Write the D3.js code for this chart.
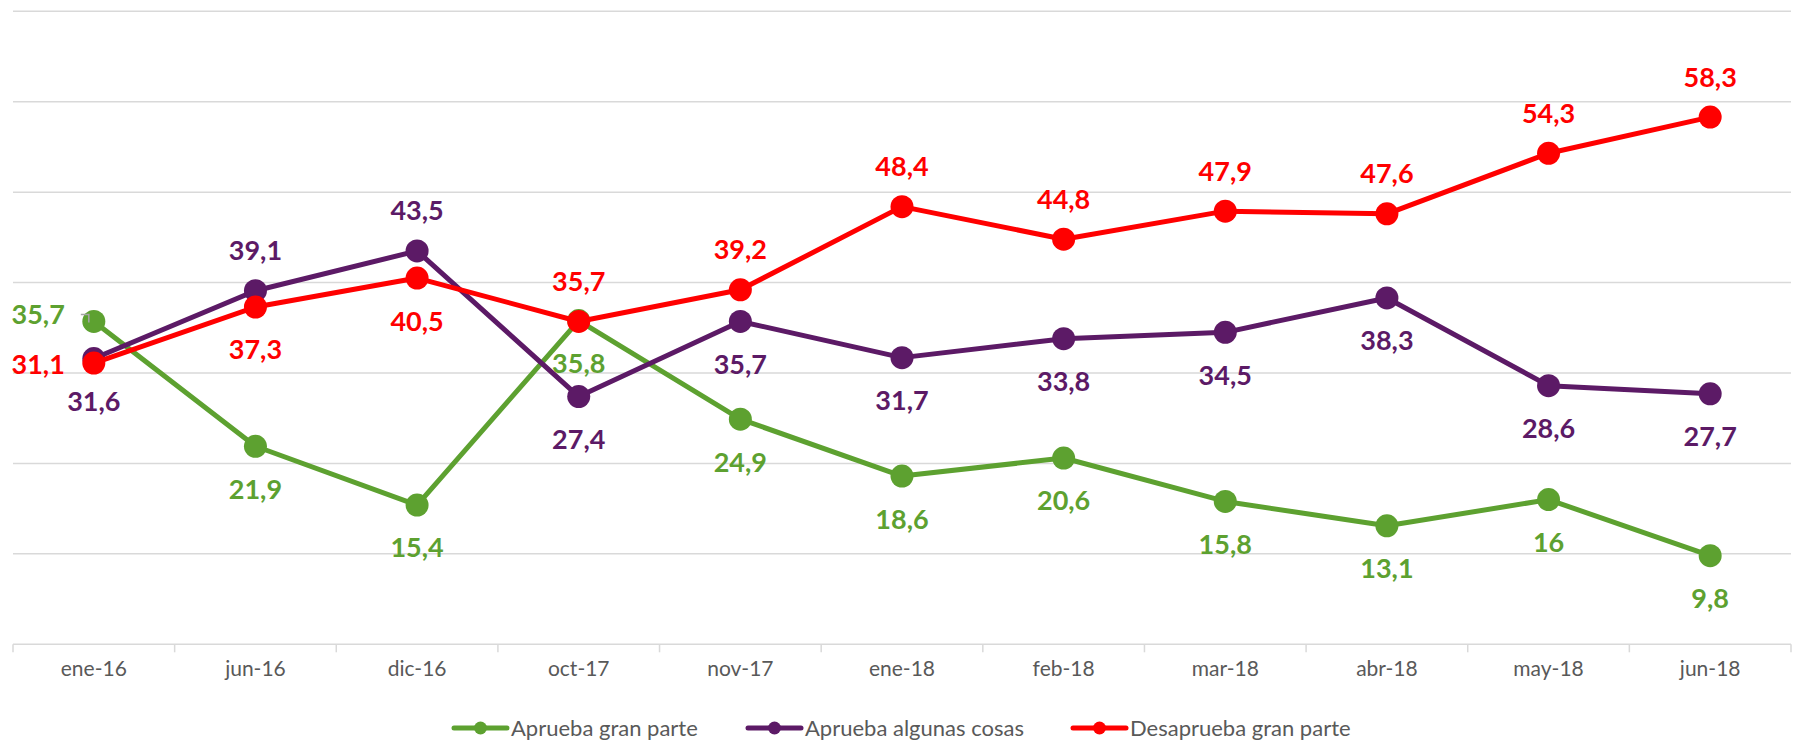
<!DOCTYPE html>
<html>
<head>
<meta charset="utf-8">
<script src="https://cdn.jsdelivr.net/npm/d3@7"></script>
<style>
  body { margin: 0; background: #fff; }
  svg { display: block; font-family: Lato, "Open Sans", sans-serif; }
</style>
</head>
<body>
<svg width="1794" height="742"></svg>
<script>
// categories on the x axis
const months = ["ene-16", "jun-16", "dic-16", "oct-17", "nov-17", "ene-18", "feb-18", "mar-18", "abr-18", "may-18", "jun-18"];

// series values
const apruebaGran = [35.7, 21.9, 15.4, 35.8, 24.9, 18.6, 20.6, 15.8, 13.1, 16, 9.8];
const apruebaAlgunas = [31.6, 39.1, 43.5, 27.4, 35.7, 31.7, 33.8, 34.5, 38.3, 28.6, 27.7];
const desaprueba = [31.1, 37.3, 40.5, 35.7, 39.2, 48.4, 44.8, 47.9, 47.6, 54.3, 58.3];

const seriesNames = ["Aprueba gran parte", "Aprueba algunas cosas", "Desaprueba gran parte"];

// where each data label sits: a = above, b = below, l = left
const greenLabelPos = ["l", "b", "b", "b", "b", "b", "b", "b", "b", "b", "b"];
const purpleLabelPos = ["b", "a", "a", "b", "b", "b", "b", "b", "b", "b", "b"];
const redLabelPos = ["l", "b", "b", "a", "a", "a", "a", "a", "a", "a", "a"];

const gridTicks = [0, 10, 20, 30, 40, 50, 60, 70];

const series = [
  { name: seriesNames[0], values: apruebaGran, pos: greenLabelPos, color: "#5DA130" },
  { name: seriesNames[1], values: apruebaAlgunas, pos: purpleLabelPos, color: "#5C1A66" },
  { name: seriesNames[2], values: desaprueba, pos: redLabelPos, color: "#FF0000" }
];

const svg = d3.select("svg");

const x = d3.scaleBand()
  .domain(months)
  .range([13, 1791]);

const y = d3.scaleLinear()
  .domain([0, 70])
  .range([644.3, 11.3]);

// gridlines
svg.append("g")
  .selectAll("line")
  .data(gridTicks)
  .enter()
  .append("line")
  .attr("x1", 13)
  .attr("x2", 1791)
  .attr("y1", d => y(d))
  .attr("y2", d => y(d))
  .attr("stroke", "#D9D9D9")
  .attr("stroke-width", 1.5);

// x axis
const xAxis = svg.append("g")
  .attr("transform", "translate(0," + y(0) + ")")
  .call(d3.axisBottom(x).tickSize(0).tickPadding(0));
xAxis.select(".domain").remove();
xAxis.selectAll("text")
  .attr("y", 32)
  .attr("dy", null)
  .attr("fill", "#595959")
  .style("font-size", "21px")
  .style("font-family", "Lato, 'Open Sans', sans-serif");

// ticks between the categories
const bounds = months.map(m => x(m)).concat([x.range()[1]]);
svg.append("g")
  .selectAll("line")
  .data(bounds)
  .enter()
  .append("line")
  .attr("x1", d => d)
  .attr("x2", d => d)
  .attr("y1", y(0))
  .attr("y2", y(0) + 8)
  .attr("stroke", "#D9D9D9")
  .attr("stroke-width", 1.5);

const cx = m => x(m) + x.bandwidth() / 2;

const line = d3.line()
  .x((d, i) => cx(months[i]))
  .y(d => y(d));

// lines and markers
series.forEach(s => {
  const g = svg.append("g");
  g.append("path")
    .datum(s.values)
    .attr("fill", "none")
    .attr("stroke", s.color)
    .attr("stroke-width", 5)
    .attr("stroke-linejoin", "round")
    .attr("d", line);
  g.selectAll("circle")
    .data(s.values)
    .enter()
    .append("circle")
    .attr("cx", (d, i) => cx(months[i]))
    .attr("cy", d => y(d))
    .attr("r", 11.5)
    .attr("fill", s.color);
});

// small leader line next to the first green label
svg.append("path")
  .attr("d", "M" + (cx(months[0]) - 13) + "," + (y(apruebaGran[0]) - 7) + "h8v8")
  .attr("fill", "none")
  .attr("stroke", "#A6A6A6")
  .attr("stroke-width", 1.5);

// data labels
series.forEach(s => {
  svg.append("g")
    .selectAll("text")
    .data(s.values)
    .enter()
    .append("text")
    .attr("x", (d, i) => {
      const p = s.pos[i];
      return p === "l" ? cx(months[i]) - 29 : cx(months[i]);
    })
    .attr("y", (d, i) => {
      const p = s.pos[i];
      if (p === "a") return y(d) - 40;
      if (p === "b") return y(d) + 43;
      return y(d) + (s.color === "#5DA130" ? -7 : 1);
    })
    .attr("dy", "0.35em")
    .attr("text-anchor", (d, i) => s.pos[i] === "l" ? "end" : "middle")
    .attr("fill", s.color)
    .attr("font-weight", 700)
    .style("font-size", "27px")
    .text(d => String(d).replace(".", ","));
});

// legend
const legendX = [454, 748, 1073];
const legend = svg.append("g")
  .attr("transform", "translate(0,728)");
series.forEach((s, i) => {
  const lg = legend.append("g")
    .attr("transform", "translate(" + legendX[i] + ",0)");
  lg.append("line")
    .attr("x1", 0)
    .attr("x2", 53)
    .attr("y1", 0)
    .attr("y2", 0)
    .attr("stroke", s.color)
    .attr("stroke-width", 5)
    .attr("stroke-linecap", "round");
  lg.append("circle")
    .attr("cx", 26.5)
    .attr("cy", 0)
    .attr("r", 6.5)
    .attr("fill", s.color);
  lg.append("text")
    .attr("x", 57)
    .attr("y", 0)
    .attr("dy", "0.35em")
    .attr("fill", "#595959")
    .style("font-size", "22px")
    .text(s.name);
});
</script>
</body>
</html>
